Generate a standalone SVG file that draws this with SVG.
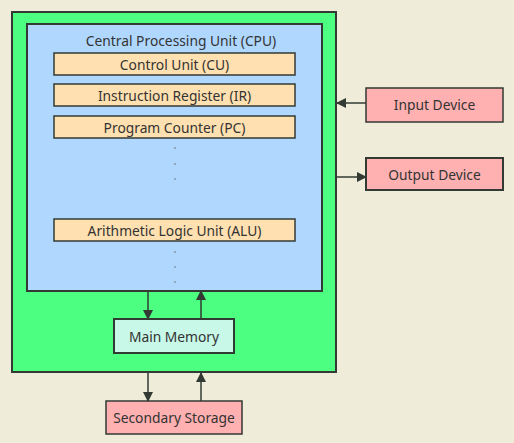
<svg xmlns="http://www.w3.org/2000/svg" width="514" height="443" viewBox="0 0 514 443">
<style>
text{font-family:"Noto Sans","Open Sans",sans-serif;font-size:13.8px;fill:#333;text-anchor:middle;dominant-baseline:central}
.b{stroke:#333a33;stroke-width:2}
.reg{fill:#ffe0b0;stroke:#333a33;stroke-width:1.5}
.dot{fill:#555}
.c{stroke:#333a33;stroke-width:1.5;fill:none}
</style>
<defs>
<marker id="ah" viewBox="0 0 10 10" refX="9" refY="5" markerWidth="10" markerHeight="10" markerUnits="userSpaceOnUse" orient="auto">
<path d="M0,0 L10,5 L0,10 z" fill="#333a33"/>
</marker>
</defs>
<rect width="514" height="443" fill="#efedd9"/>
<g id="computer">
<rect x="12" y="12" width="324" height="360" fill="#4dff80" class="b"/>
</g>
<g id="cpu">
<rect x="27" y="24" width="295" height="267" fill="#b0d8ff" class="b"/>
<text x="181" y="40">Central Processing Unit (CPU)</text>
</g>
<g id="cu">
<rect x="54" y="53" width="241" height="22" class="reg"/>
<text x="174.5" y="64">Control Unit (CU)</text>
</g>
<g id="ir">
<rect x="54" y="84" width="241" height="22" class="reg"/>
<text x="174.5" y="95">Instruction Register (IR)</text>
</g>
<g id="pc">
<rect x="54" y="116" width="241" height="22" class="reg"/>
<text x="174.5" y="127">Program Counter (PC)</text>
</g>
<g id="dots1">
<circle cx="175" cy="148" r="0.7" class="dot"/>
<circle cx="175" cy="164" r="0.7" class="dot"/>
<circle cx="175" cy="179" r="0.7" class="dot"/>
</g>
<g id="alu">
<rect x="54" y="219" width="241" height="22" class="reg"/>
<text x="174.5" y="230">Arithmetic Logic Unit (ALU)</text>
</g>
<g id="dots2">
<circle cx="175" cy="252" r="0.7" class="dot"/>
<circle cx="175" cy="267" r="0.7" class="dot"/>
<circle cx="175" cy="282" r="0.7" class="dot"/>
</g>
<g id="main-memory">
<rect x="114" y="319" width="120" height="34" fill="#c8f8e8" class="b"/>
<text x="174" y="336">Main Memory</text>
</g>
<g id="secondary-storage">
<rect x="106" y="401" width="136" height="33" fill="#ffb0b0" stroke="#333a33" stroke-width="1.5"/>
<text x="174" y="417.5">Secondary Storage</text>
</g>
<g id="input-device">
<rect x="366" y="88" width="137" height="34" fill="#ffb0b0" stroke="#333a33" stroke-width="1.5"/>
<text x="434.5" y="104">Input Device</text>
</g>
<g id="output-device">
<rect x="366" y="158" width="137" height="32" fill="#ffb0b0" class="b"/>
<text x="434.5" y="174">Output Device</text>
</g>
<g id="connectors">
<line x1="148" y1="291" x2="148" y2="319" class="c" marker-end="url(#ah)"/>
<line x1="201" y1="319" x2="201" y2="291" class="c" marker-end="url(#ah)"/>
<line x1="148" y1="373" x2="148" y2="401" class="c" marker-end="url(#ah)"/>
<line x1="201" y1="401" x2="201" y2="373" class="c" marker-end="url(#ah)"/>
<line x1="366" y1="103" x2="337" y2="103" class="c" marker-end="url(#ah)"/>
<line x1="337" y1="177" x2="366" y2="177" class="c" marker-end="url(#ah)"/>
</g>
</svg>
